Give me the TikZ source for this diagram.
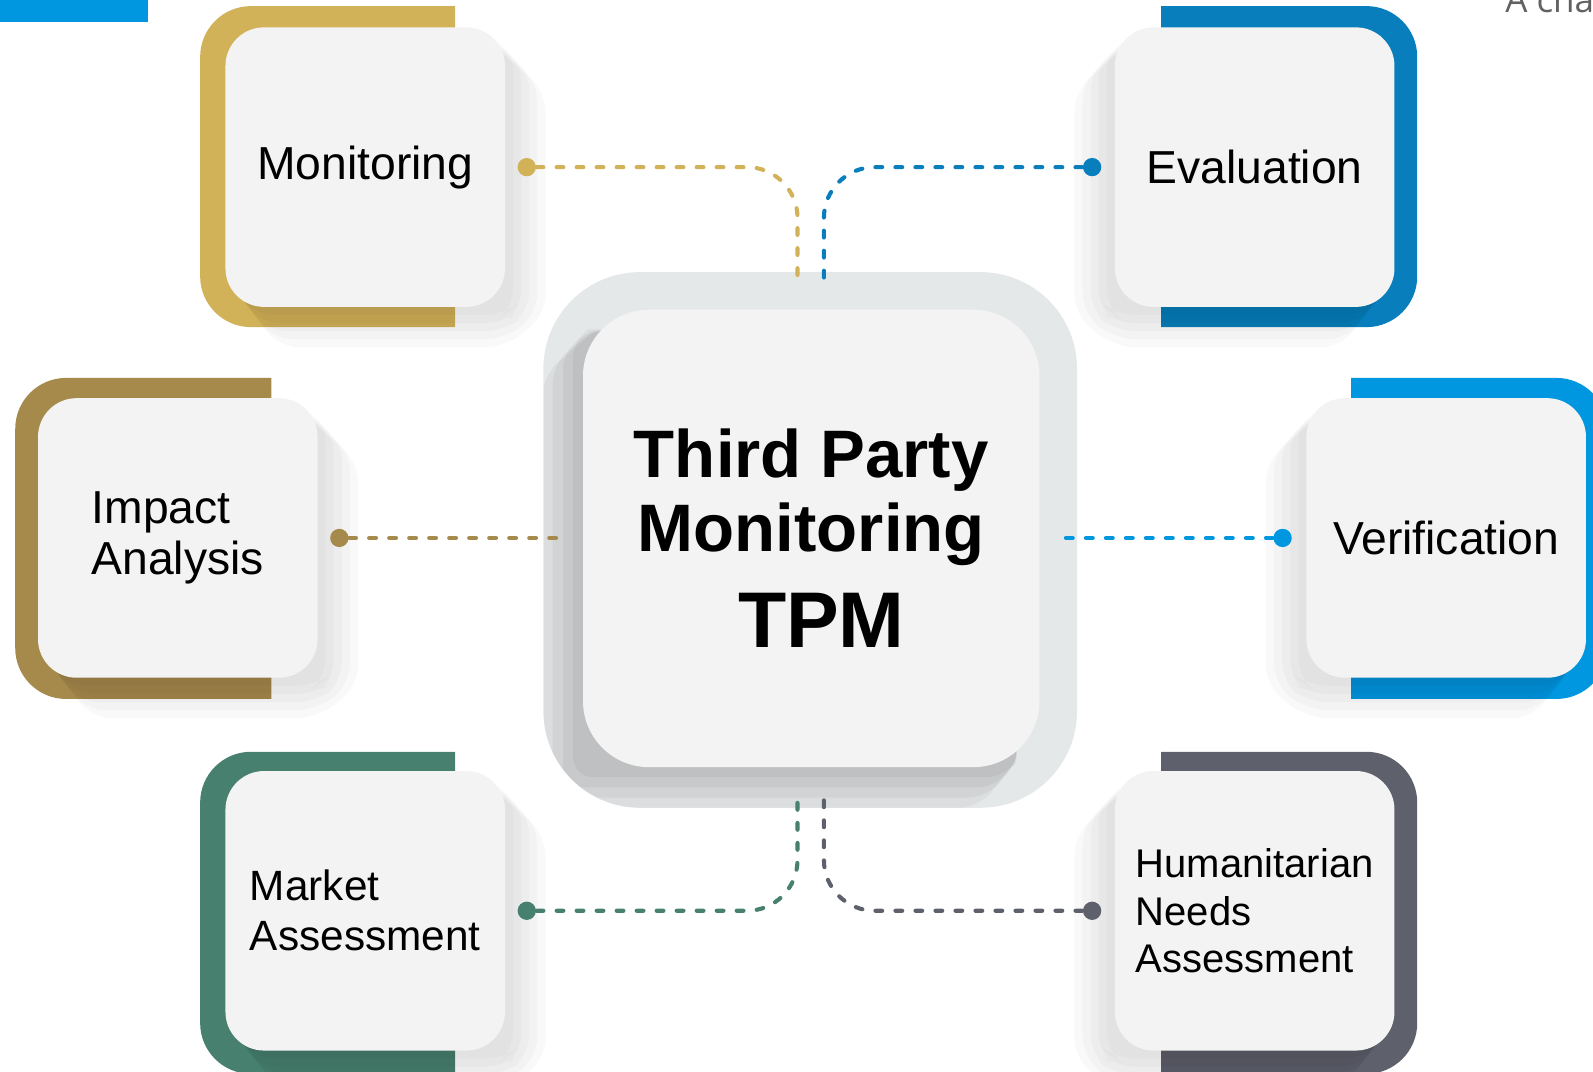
\documentclass[tikz,border=0pt]{standalone}
\usepackage{fontspec}
\setmainfont{Liberation Sans}
\newfontfamily\notefont{Open Sans}
\usetikzlibrary{positioning}

\definecolor{tpmgold}{HTML}{D2B258}
\definecolor{tpmolive}{HTML}{A68A4C}
\definecolor{tpmgreen}{HTML}{47806F}
\definecolor{tpmblue}{HTML}{087EBD}
\definecolor{tpmsky}{HTML}{0096E0}
\definecolor{tpmslate}{HTML}{5E606B}
\definecolor{cardgray}{HTML}{F3F3F3}
\definecolor{ringgray}{HTML}{E5E8E9}

\begin{document}
\begin{tikzpicture}[x=0.01cm, y=-0.01cm,
	every node/.style={font=\fontsize{12.95}{14.5}\selectfont,
                        align=left,
                        inner sep=0pt
                        },
	card/.style= {fill=cardgray,
    			  rounded corners=0.38cm,
                  minimum width=2.75cm, minimum height=2.75cm
    },
	hub/.style= {fill=cardgray, rounded corners=0.65cm,
                 minimum width=4.49cm, minimum height=4.5cm,
                 align=center,
                 font=\bfseries\fontsize{18.8}{20.5}\selectfont
    },
	ring/.style={fill=ringgray, rounded corners=0.95cm,
                 minimum width=5.25cm, minimum height=5.27cm},
	knob/.style={circle, fill=#1, minimum size=0.18cm},
	link/.style={draw=#1, line width=1.15pt, line cap=round,
                 dash pattern=on 1.9pt off 3.7pt, rounded corners=0.5cm},
	castshade/.style={fill=black, opacity=0.025, rounded corners=0.2cm}
]
	\useasboundingbox (0,0) rectangle (1568,1055);

	% centre block
	\node[ring] (ring) at (797.5,531.5) {};
	\begin{scope}
		\clip[rounded corners=0.95cm] (535,268) rectangle (1060,795);
		\foreach \d in {10,20,30,40}
			\fill[castshade, opacity=0.045] (594,318) -- ({574-\d},{318+1.3*\d}) -- ({574-\d},{755+\d})
				-- ({1000-0.9*\d},{755+\d}) -- (1008,738) -- cycle;
	\end{scope}
	\node[hub] (hub) at (798.5,530) {Third Party\\Monitoring\\[6.5pt]{\fontsize{22.1}{24}\selectfont\hspace*{0.2cm}TPM}};

	% coloured frames
	\foreach \fcol/\clipl/\clipr/\xl/\yt/\xr/\yb in {
		tpmgold/0/448/197/6/600/322, tpmolive/0/267/15/372/420/688,
		tpmgreen/0/448/197/740/600/1057, tpmblue/1143/1568/1000/6/1395/322,
		tpmsky/1330/1568/1150/372/1582/688, tpmslate/1143/1568/1000/740/1395/1057}
	{
		\begin{scope}
			\clip (\clipl,0) rectangle (\clipr,1055);
			\fill[\fcol, rounded corners=0.5cm] (\xl,\yt) rectangle (\xr,\yb);
		\end{scope}
	}

	% long shadows, towards the centre
	\foreach \cx/\cy/\s in {359.5/164.5/1, 1235/164.5/-1, 175/529.5/1,
		1423.5/529.5/-1, 359.5/896.5/1, 1235/896.5/-1}
		\foreach \d in {8,16,24,32,40}
			\fill[castshade] ({\cx+\s*117},{\cy-127}) -- ({\cx+\s*(137.5+\d)},{\cy-127+1.3*\d})
				-- ({\cx+\s*(137.5+\d)},{\cy+137.5+0.2*\d}) -- ({\cx+\s*137.5},{\cy+137.5+\d})
				-- ({\cx-\s*(117-0.8*\d)},{\cy+137.5+\d}) -- ({\cx-\s*135},{\cy+110}) -- cycle;

	\node[card] (monitoring) at (359.5,164.5) {Monitoring};
	\node[card] (evaluation) at (1235,164.5) {Evaluation};
	\node[card] (impact) at (175,529.5) {Impact\\Analysis};
	\node[card] (verification) at (1423.5,529.5) {Verification};
	\node[card, font=\fontsize{11.85}{14}\selectfont] (market) at (359.5,896.5) {Market\\Assessment};
	\node[card, font=\fontsize{11.2}{13.4}\selectfont] (needs) at (1235,896.5) {Humanitarian\\Needs\\Assessment};

	\node[knob=tpmgold, right=0.11cm of monitoring] (monitoring-dot) {};
	\node[knob=tpmblue, left=0.12cm of evaluation] (evaluation-dot) {};
	\node[knob=tpmolive, right=0.11cm of impact] (impact-dot) {};
	\node[knob=tpmsky, left=0.13cm of verification] (verification-dot) {};
	\node[knob=tpmgreen, right=0.11cm of market] (market-dot) {};
	\node[knob=tpmslate, left=0.12cm of needs] (needs-dot) {};

	\coordinate (monitoring-end) at (785,282);
	\coordinate (evaluation-end) at (811,282);
	\coordinate (impact-end) at (550,529.5);
	\coordinate (verification-end) at (1046,529.5);
	\coordinate (market-end) at (785,778);
	\coordinate (needs-end) at (811,778);

	\draw[link=tpmgold] (monitoring-dot) -| (monitoring-end);
	\draw[link=tpmblue] (evaluation-dot) -| (evaluation-end);
	\draw[link=tpmolive] (impact-dot) -- (impact-end);
	\draw[link=tpmsky] (verification-dot) -- (verification-end);
	\draw[link=tpmgreen] (market-dot) -| (market-end);
	\draw[link=tpmslate] (needs-dot) -| (needs-end);

	% page furniture
	\fill[tpmsky] (0,0) rectangle (146,22);
	\node[anchor=base west, font=\notefont\fontsize{9.8}{12}\selectfont, text=black!62] (note) at (1481,12) {A cha};
\end{tikzpicture}
\end{document}
